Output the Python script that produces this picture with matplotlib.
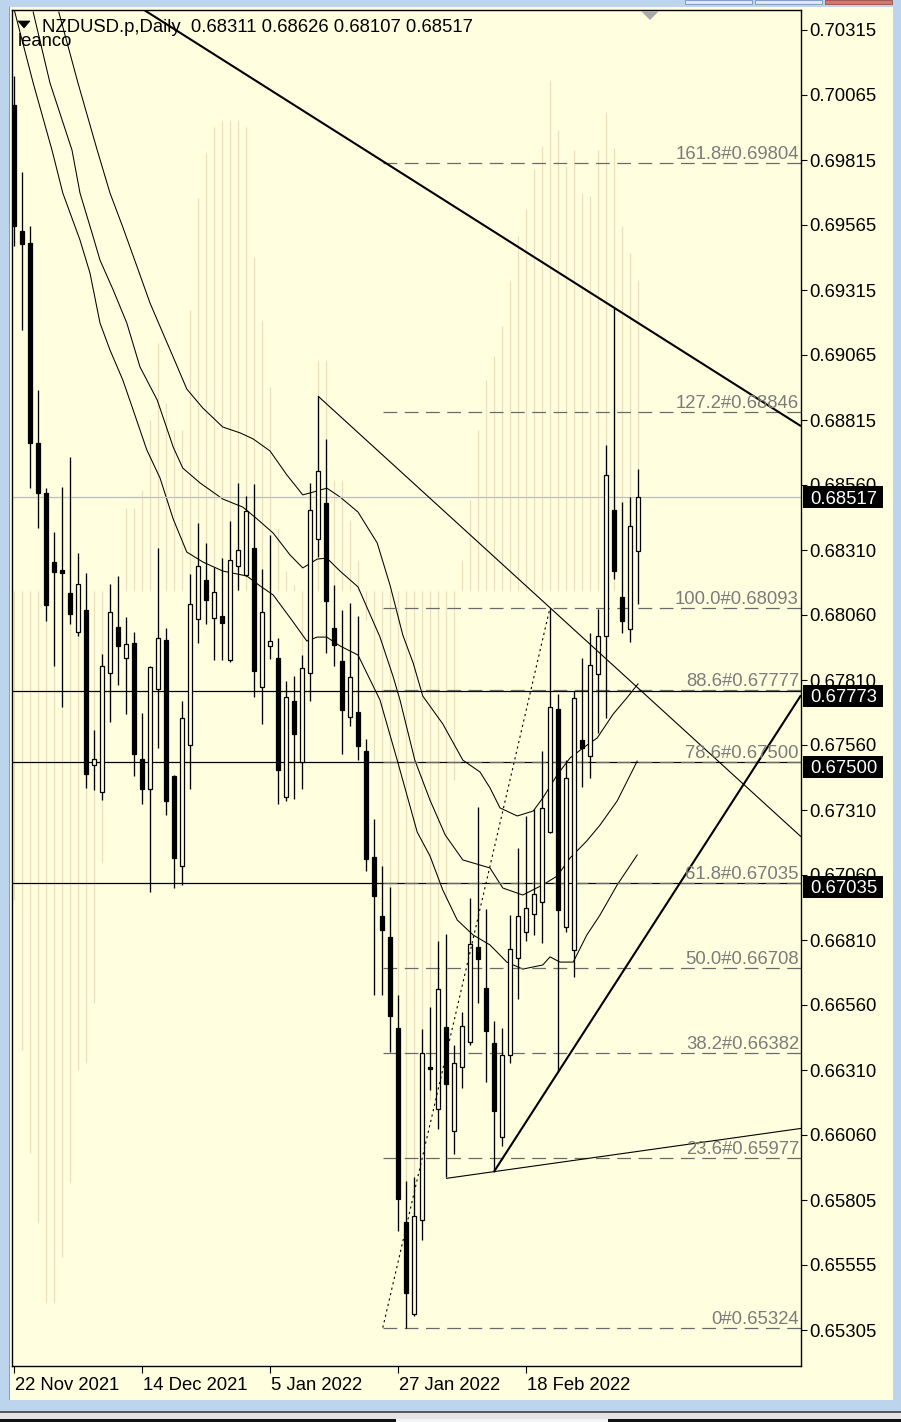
import matplotlib
matplotlib.use('Agg')
import matplotlib.pyplot as plt
from matplotlib.patches import Rectangle, Polygon

W, H, DPI = 901, 1422, 100
BG = '#FFFFE0'
plt.rcParams['font.family'] = ['Liberation Sans', 'DejaVu Sans']
FS = 13.3

# ---------------- data ----------------
opens = [0.70028, 0.69540, 0.69496, 0.68727, 0.68534, 0.68269, 0.68238, 0.68150, 0.67999, 0.68084,
         0.67488, 0.67384, 0.67842, 0.68019, 0.67901, 0.67959, 0.67511, 0.67396, 0.67780, 0.67967,
         0.67444, 0.67100, 0.67565, 0.68050, 0.68200, 0.68054, 0.68061, 0.67892, 0.68255, 0.68219,
         0.68323, 0.67787, 0.67944, 0.67901, 0.67366, 0.67735, 0.67500, 0.67842, 0.68359, 0.68497,
         0.68014, 0.67887, 0.67673, 0.67692, 0.67541, 0.67133, 0.66907, 0.66827, 0.66477, 0.65732,
         0.65377, 0.65737, 0.66327, 0.66165, 0.66481, 0.66082, 0.66327, 0.66424, 0.66788, 0.66630,
         0.66420, 0.66057, 0.66371, 0.66744, 0.66847, 0.66916, 0.66962, 0.67232, 0.67703, 0.66865,
         0.66777, 0.67585, 0.67523, 0.67837, 0.67986, 0.68467, 0.68133, 0.68012, 0.68311]
highs = [0.70138, 0.69769, 0.69561, 0.68932, 0.68553, 0.68384, 0.68557, 0.68673, 0.68303, 0.68227,
         0.67623, 0.67915, 0.68184, 0.68215, 0.68057, 0.67999, 0.67688, 0.67869, 0.68324, 0.68015,
         0.67450, 0.67734, 0.68224, 0.68419, 0.68340, 0.68251, 0.68284, 0.68427, 0.68574, 0.68524,
         0.68569, 0.68242, 0.68373, 0.67975, 0.67812, 0.67830, 0.67911, 0.68574, 0.68907, 0.68740,
         0.68180, 0.68083, 0.68111, 0.68061, 0.67587, 0.67280, 0.67101, 0.67019, 0.66604, 0.65888,
         0.65905, 0.66474, 0.66557, 0.66811, 0.66838, 0.66412, 0.66538, 0.66977, 0.67327, 0.66934,
         0.66502, 0.66478, 0.66911, 0.67169, 0.67292, 0.67317, 0.67542, 0.68093, 0.67760, 0.67507,
         0.67773, 0.67901, 0.67997, 0.68089, 0.68717, 0.69247, 0.68501, 0.68519, 0.68626]
lows = [0.69485, 0.69161, 0.68553, 0.68400, 0.68042, 0.67869, 0.67711, 0.68030, 0.67984, 0.67401,
        0.67392, 0.67353, 0.67655, 0.67796, 0.67684, 0.67446, 0.67338, 0.67000, 0.67554, 0.67297,
        0.67015, 0.67025, 0.67394, 0.67957, 0.68030, 0.67892, 0.67892, 0.67885, 0.68163, 0.68215,
        0.67750, 0.67646, 0.67897, 0.67338, 0.67351, 0.67357, 0.67397, 0.67735, 0.68288, 0.67919,
        0.67870, 0.67530, 0.67638, 0.67507, 0.67080, 0.66604, 0.66604, 0.66384, 0.65697, 0.65324,
        0.65369, 0.65663, 0.66238, 0.66089, 0.65905, 0.65990, 0.66246, 0.66412, 0.66573, 0.66267,
        0.65924, 0.66024, 0.66340, 0.66589, 0.66813, 0.66834, 0.66803, 0.67225, 0.66306, 0.66846,
        0.66674, 0.67405, 0.67438, 0.67611, 0.67670, 0.68202, 0.67997, 0.67960, 0.68107]
closes = [0.69561, 0.69490, 0.68727, 0.68534, 0.68103, 0.68230, 0.68227, 0.68069, 0.68184, 0.67452,
          0.67511, 0.67869, 0.68075, 0.67946, 0.67955, 0.67532, 0.67397, 0.67865, 0.67977, 0.67350,
          0.67130, 0.67670, 0.68107, 0.68255, 0.68123, 0.68155, 0.68034, 0.68277, 0.68316, 0.68464,
          0.67851, 0.68077, 0.67965, 0.67469, 0.67748, 0.67609, 0.67861, 0.68467, 0.68617, 0.68117,
          0.67949, 0.67700, 0.67825, 0.67562, 0.67127, 0.66986, 0.66854, 0.66523, 0.65820, 0.65456,
          0.65755, 0.66382, 0.66319, 0.66627, 0.66262, 0.66340, 0.66486, 0.66800, 0.66742, 0.66465,
          0.66159, 0.66371, 0.66782, 0.66906, 0.66937, 0.66993, 0.67323, 0.67713, 0.66932, 0.67438,
          0.67747, 0.67554, 0.67873, 0.67986, 0.68604, 0.68236, 0.68043, 0.68408, 0.68517]

# faint histogram indicator drawn in the price window (end price per bar, base level)
hist_base = 0.68157
hist_end = [0.66969, 0.66392, 0.65996, 0.65727, 0.65419, 0.65419, 0.65596, 0.65880, 0.66315, 0.66342,
            0.66573, 0.67111, 0.67661, 0.67969, 0.68477, 0.68477, 0.68546, 0.68815, 0.69111, 0.68880,
            0.68777, 0.68777, 0.69238, 0.69669, 0.69846, 0.69942, 0.69969, 0.69969, 0.69969, 0.69942,
            0.69442, 0.69200, 0.68942, 0.68400, 0.68234, 0.68180, 0.67738, 0.67930, 0.69046, 0.69046,
            0.68584, 0.68584, 0.68430, 0.68277, 0.68046, 0.67507, 0.67046, 0.66392, 0.66007, 0.65738,
            0.65738, 0.65892, 0.66200, 0.66584, 0.66969, 0.67430, 0.68277, 0.68507, 0.68777, 0.68969,
            0.69061, 0.69177, 0.69353, 0.69523, 0.69627, 0.69780, 0.69869, 0.70123, 0.69930, 0.69792,
            0.69853, 0.69688, 0.69677, 0.69853, 0.70000, 0.69861, 0.69561, 0.69457, 0.69353]

# three moving-average style curves (bar index, price)
ma_a_x = [5.6, 8.0, 10.4, 12.0, 13.6, 15.4, 17.0, 18.6, 19.9, 21.6, 23.6, 26.1, 28.3, 29.9, 32.0, 34.1,
          36.1, 37.9, 39.1, 40.75, 43.0, 45.4, 47.0, 48.6, 49.9, 51.1, 53.6, 56.1, 58.25, 59.5, 60.75,
          62.9, 64.9, 66.1, 67.9, 69.5, 71.1, 72.9, 74.9, 76.6, 78.0]
ma_a_y = [0.70384, 0.70111, 0.69853, 0.69688, 0.69557, 0.69403, 0.69265, 0.69150, 0.69057, 0.68934,
          0.68861, 0.68788, 0.68765, 0.68742, 0.68696, 0.68604, 0.68527, 0.68542, 0.68553, 0.68519,
          0.68461, 0.68342, 0.68180, 0.67988, 0.67880, 0.67753, 0.67646, 0.67507, 0.67461, 0.67400,
          0.67323, 0.67292, 0.67311, 0.67361, 0.67450, 0.67515, 0.67553, 0.67592, 0.67684, 0.67746,
          0.67800]
ma_b_x = [2.4, 4.5, 7.25, 8.25, 9.9, 10.75, 12.4, 14.1, 15.75, 17.9, 19.9, 21.1, 23.25, 26.1, 28.6,
          30.4, 32.4, 34.5, 36.1, 37.9, 39.1, 40.75, 43.0, 45.75, 47.4, 48.25, 50.1, 52.0, 53.9, 56.1,
          59.5, 61.1, 63.6, 66.1, 67.9, 69.5, 71.6, 73.25, 75.4, 77.9]
ma_b_y = [0.70384, 0.70111, 0.69853, 0.69688, 0.69519, 0.69430, 0.69315, 0.69188, 0.69019, 0.68892,
          0.68711, 0.68630, 0.68573, 0.68511, 0.68480, 0.68434, 0.68380, 0.68296, 0.68246, 0.68280,
          0.68284, 0.68234, 0.68173, 0.67980, 0.67827, 0.67738, 0.67507, 0.67353, 0.67219, 0.67123,
          0.67092, 0.67015, 0.66988, 0.67027, 0.67061, 0.67130, 0.67196, 0.67257, 0.67350, 0.67503]
ma_c_x = [-0.1, 0.1, 2.4, 4.75, 6.1, 8.25, 9.5, 10.75, 12.0, 13.6, 14.9, 16.6, 18.25, 19.9, 21.6, 23.6,
          26.1, 29.1, 30.75, 32.4, 34.9, 36.6, 37.9, 39.1, 40.75, 43.0, 45.75, 47.9, 50.4, 52.0, 53.6,
          55.4, 57.4, 59.5, 61.6, 63.6, 66.1, 67.0, 68.25, 69.9, 71.6, 73.25, 75.4, 77.9]
ma_c_y = [0.70423, 0.70384, 0.70111, 0.69853, 0.69688, 0.69507, 0.69380, 0.69188, 0.69084, 0.68969,
          0.68853, 0.68700, 0.68592, 0.68434, 0.68307, 0.68269, 0.68234, 0.68215, 0.68177, 0.68142,
          0.68038, 0.67965, 0.67980, 0.67980, 0.67946, 0.67911, 0.67738, 0.67507, 0.67230, 0.67138,
          0.67007, 0.66892, 0.66834, 0.66796, 0.66730, 0.66703, 0.66719, 0.66750, 0.66730, 0.66730,
          0.66834, 0.66911, 0.67027, 0.67142]

# fibonacci retracement
fib_levels = ['0', '23.6', '38.2', '50.0', '61.8', '78.6', '88.6', '100.0', '127.2', '161.8']
fib_prices = [0.65324, 0.65977, 0.66382, 0.66708, 0.67035, 0.67500, 0.67777, 0.68093, 0.68846, 0.69804]
fib_anchor_low = (46.1, 0.65324)
fib_anchor_high = (67.0, 0.68093)

# horizontal lines and last price
hlines = [0.67773, 0.67500, 0.67035]
last_price = 0.68517

# trend lines (two anchor points each, extended to the right)
trend_main = [(0.0, 0.70709), (75.0, 0.69247)]
trend_thin = [(38.0, 0.68907), (67.0, 0.68093)]
trend_up = [(60.0, 0.65924), (68.0, 0.66306)]
trend_low = [(54.0, 0.65898), (60.0, 0.65924)]

# axes labels
price_tick_labels = ['0.70315', '0.70065', '0.69815', '0.69565', '0.69315', '0.69065', '0.68815',
                     '0.68560', '0.68310', '0.68060', '0.67810', '0.67560', '0.67310', '0.67060',
                     '0.66810', '0.66560', '0.66310', '0.66060', '0.65805', '0.65555', '0.65305']
date_labels = ['22 Nov 2021', '14 Dec 2021', '5 Jan 2022', '27 Jan 2022', '18 Feb 2022']
date_bars = [0, 16, 32, 48, 64]

title = 'NZDUSD.p,Daily  0.68311 0.68626 0.68107 0.68517'

# ---------------- figure ----------------
fig = plt.figure(figsize=(W / DPI, H / DPI), dpi=DPI, facecolor='#BCD4EC')


def fx(x):
    return x / W


def fy(y):
    return 1 - y / H


def frect(x0, y0, x1, y1, **kw):
    fig.add_artist(Rectangle((fx(x0), fy(y1)), fx(x1) - fx(x0), fy(y0) - fy(y1),
                             transform=fig.transFigure, **kw))


# window area
frect(9, 7, 893, 1400, fc=BG, ec='none', zorder=0)
frect(9, 7, 10, 1400, fc='#9A9A9A', ec='none', zorder=0)
# top buttons
frect(685, 0, 752, 4, fc='#DCE8F6', ec='#7A93B5', lw=0.6, zorder=0)
frect(755, 0, 822, 4, fc='#DCE8F6', ec='#7A93B5', lw=0.6, zorder=0)
frect(825, 0, 892, 4, fc='#D9766B', ec='#A04A40', lw=0.6, zorder=0)
# bottom strip
frect(0, 1411, 901, 1413, fc='#5A5A5A', ec='none', zorder=0)
frect(0, 1413, 901, 1419, fc='#E4E4E4', ec='none', zorder=0)
frect(0, 1419, 901, 1422, fc='#111111', ec='none', zorder=0)
frect(396, 1419, 608, 1422, fc='#F4F4F4', ec='none', zorder=0)

ax = fig.add_axes([fx(12), fy(1366), fx(801) - fx(12), fy(10) - fy(1366)])
ax.set_facecolor(BG)
XMIN, XMAX = -0.25, 98.375
ax.set_xlim(XMIN, XMAX)
ax.set_ylim(0.651765, 0.703919)
for s in ax.spines.values():
    s.set_color('black')
    s.set_linewidth(1.0)

tick_vals = [0.70315 - 0.0025 * k for k in range(len(price_tick_labels))]
ax.yaxis.tick_right()
ax.set_yticks(tick_vals)
ax.set_yticklabels([])
ax.set_xticks(date_bars)
ax.set_xticklabels([])
ax.tick_params(axis='y', direction='out', length=4, width=0.8, color='black')
ax.tick_params(axis='x', direction='out', length=5, width=0.8, color='black')

# faint histogram
ax.vlines(range(len(hist_end)), hist_base, hist_end, colors='#E9DFBC', lw=0.9, zorder=1)

# curves
for xs, ys in [(ma_a_x, ma_a_y), (ma_b_x, ma_b_y), (ma_c_x, ma_c_y)]:
    ax.plot(xs, ys, color='black', lw=0.75, zorder=2)

# last price line and horizontal lines
ax.axhline(last_price, color='#BDBDBD', lw=0.9, zorder=2)
for h in hlines:
    ax.axhline(h, color='black', lw=0.9, zorder=2)

# fibonacci
for lv, p in zip(fib_levels, fib_prices):
    ax.plot([fib_anchor_low[0], XMAX], [p, p], color='#6A6A6A', lw=0.9,
            linestyle=(0, (11, 6)), zorder=2)
    ax.annotate(f'{lv}#{p:.5f}', xy=(1, p), xycoords=('axes fraction', 'data'),
                xytext=(-2, 4), textcoords='offset pixels', ha='right', va='baseline',
                fontsize=FS, color='#7B7B7B', zorder=6)
ax.plot([fib_anchor_low[0], fib_anchor_high[0]], [fib_anchor_low[1], fib_anchor_high[1]],
        color='black', lw=0.8, linestyle=(0, (2, 3)), zorder=4)

# candles
bw = 0.56
for i, (o, h, l, c) in enumerate(zip(opens, highs, lows, closes)):
    ax.vlines(i, l, h, colors='black', lw=0.95, zorder=3)
    bull = c > o
    lo, hi = min(o, c), max(o, c)
    if hi - lo < 0.00006:
        ax.plot([i - bw / 2, i + bw / 2], [(o + c) / 2] * 2, color='black', lw=2.0, zorder=3,
                solid_capstyle='butt')
    else:
        ax.add_patch(Rectangle((i - bw / 2, lo), bw, hi - lo, fc=BG if bull else 'black',
                               ec='black', lw=0.9, zorder=3))


def ray(p1, p2, lw):
    slope = (p2[1] - p1[1]) / (p2[0] - p1[0])
    ax.plot([p1[0], XMAX], [p1[1], p1[1] + slope * (XMAX - p1[0])], color='black', lw=lw, zorder=4,
            solid_capstyle='butt')


ray(*trend_main, 1.5)
ray(*trend_thin, 0.8)
ray(*trend_up, 1.5)
ray(*trend_low, 0.8)


def ypx(p):
    return 30 + (0.70315 - p) * 26000


# right axis labels
for v, s in zip(tick_vals, price_tick_labels):
    fig.text(fx(809), fy(ypx(v)), s, ha='left', va='center_baseline', fontsize=FS,
             color='black', zorder=5)

# price boxes
box_items = [(last_price, 0), (0.67773, 5), (0.67500, 5), (0.67035, 4)]
for p, off in box_items:
    yc = ypx(p) + off
    frect(803, yc - 11, 883, yc + 11, fc='black', ec='none', zorder=6)
    fig.text(fx(810), fy(yc), f'{p:.5f}', ha='left', va='center_baseline', fontsize=FS,
             color='white', zorder=7)

# date labels
for b, s in zip(date_bars, date_labels):
    xpx = 14 + 8 * b
    fig.text(fx(xpx + 1), fy(1384), s, ha='left', va='center_baseline', fontsize=FS, color='black')

# header
fig.add_artist(Polygon([(fx(18), fy(21)), (fx(30), fy(21)), (fx(24), fy(28))], closed=True,
                       transform=fig.transFigure, fc='black', ec='black', lw=0.5, zorder=8))
fig.text(fx(42), fy(25), title, ha='left', va='center_baseline', fontsize=FS, color='black', zorder=8)
fig.text(fx(18), fy(40), 'leanco', ha='left', va='center_baseline', fontsize=FS, color='black', zorder=8)

# chart shift marker
fig.add_artist(Polygon([(fx(641), fy(11)), (fx(659), fy(11)), (fx(650), fy(20))], closed=True,
                       transform=fig.transFigure, fc='#A9A9A9', ec='none', zorder=8))

fig.savefig('out.png', dpi=DPI, facecolor=fig.get_facecolor())
